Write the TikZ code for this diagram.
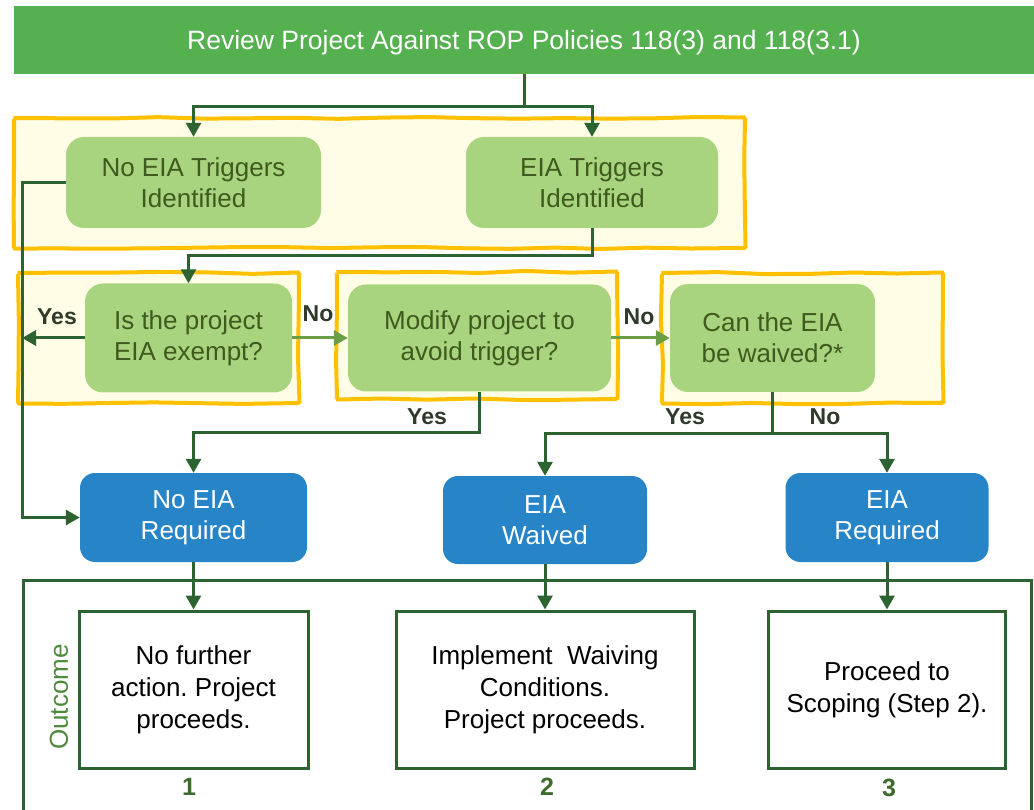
\documentclass[tikz,border=0pt]{standalone}
\usepackage{fontspec}
\setmainfont{Liberation Sans}
\usepackage{tikz}
\usetikzlibrary{arrows.meta}
\usetikzlibrary{decorations.pathmorphing}
\usetikzlibrary{calc,positioning}

\definecolor{topgreen}{HTML}{55B04F}
\definecolor{leafgreen}{HTML}{A9D47F}
\definecolor{leaftext}{HTML}{3E5A1E}
\definecolor{linkgreen}{HTML}{2C6330}
\definecolor{nogreen}{HTML}{6A9F48}
\definecolor{zonefill}{HTML}{FFFDE6}
\definecolor{zoneedge}{HTML}{FFC000}
\definecolor{bluebox}{HTML}{2684C7}
\definecolor{answertext}{HTML}{2F3A2A}
\definecolor{numgreen}{HTML}{3D6B2C}
\definecolor{outcometext}{HTML}{4E8A3C}

\begin{document}
\frenchspacing
\pgfmathsetseed{11}
\begin{tikzpicture}[x=1pt, y=-1pt, >={Triangle[length=14pt,width=15pt]},
    topbar/.style={fill=topgreen, text=white, inner sep=0pt, font=\fontsize{26.5}{31}\selectfont},
    leaf/.style={fill=leafgreen, text=leaftext, rounded corners=18pt, inner sep=0pt, align=center, font=\fontsize{26}{31}\selectfont},
    result/.style={fill=bluebox, text=white, rounded corners=15pt, inner sep=0pt, align=center, font=\fontsize{26}{31}\selectfont},
    action/.style={draw=linkgreen, line width=3pt, fill=white, text=black, inner sep=0pt, align=center, font=\fontsize{26}{32}\selectfont},
    zone/.style={draw=zoneedge, line width=4pt, fill=zonefill, rounded corners=1pt, decorate, decoration={random steps, segment length=45pt, amplitude=1.2pt}},
    link/.style={draw=linkgreen, line width=3pt},
    nolink/.style={draw=nogreen, line width=3pt},
    answer/.style={text=answertext, font=\bfseries\fontsize{23}{27}\selectfont, inner sep=0pt},
    num/.style={text=numgreen, font=\bfseries\fontsize{25}{30}\selectfont, inner sep=0pt}]

    \useasboundingbox (0,0) rectangle (1034,810);

    % zonas amarelas
    \draw[zone] (14,118) rectangle (745,248);
    \draw[zone] (18,273) rectangle (299,403);
    \draw[zone] (337,272) rectangle (617,399);
    \draw[zone] (662,273) rectangle (943,403);

    % barra do topo
    \node[topbar, minimum width=1020, minimum height=68] (review) at (524,40) {};
    \node[topbar, fill=none] (reviewtext) at (524,43) {Review Project Against ROP Policies 118(3) and 118(3.1)};

    % caixas verdes
    \node[leaf, minimum width=255, minimum height=91] (notrig) at (193.5,182.5) {No EIA Triggers\\Identified};
    \node[leaf, minimum width=252, minimum height=91] (trig) at (592,182.5) {EIA Triggers\\Identified};
    \node[leaf, minimum width=207, minimum height=109] (exempt) at (188.5,338) {Is the project\\EIA exempt?};
    \node[leaf, minimum width=263, minimum height=107] (modify) at (479.5,338) {Modify project to\\avoid trigger?};
    \node[leaf, minimum width=205, minimum height=108] (waive) at (772.5,338) {Can the EIA\\be waived?*};

    % caixas azuis
    \node[result, minimum width=227, minimum height=89] (noeia) at (193.5,517.5) {No EIA\\Required};
    \node[result, minimum width=204, minimum height=88] (waived) at (545,520) {EIA\\Waived};
    \node[result, minimum width=203, minimum height=89] (eiareq) at (887,517.5) {EIA\\Required};

    % quadro de resultados
    \draw[link] (23,815) |- (1031,580) -- (1031,815);
    \node[rotate=90, text=outcometext, font=\fontsize{26}{31}\selectfont, inner sep=0pt] (outcome) at (59,697) {Outcome};

    \node[action, minimum width=229, minimum height=157] (act1) at (193.5,689.5) {No further\\action. Project\\proceeds.};
    \node[action, minimum width=298, minimum height=157] (act2) at (545,689.5) {Implement~ Waiving\\Conditions.\\Project proceeds.};
    \node[action, minimum width=237, minimum height=157] (act3) at (887,689.5) {Proceed to\\Scoping (Step 2).};

    \node[num] (n1) at (189,787) {1};
    \node[num] (n2) at (547,787) {2};
    \node[num] (n3) at (889,788) {3};

    % ligacoes
    \draw[link] (review.south) -- (524,107) coordinate (fork1);
    \draw[link,->] (fork1) -| (notrig.north);
    \draw[link,->] (fork1) -| (trig.north);

    \draw[link,->] (notrig.west) -- (22,182.5) |- (noeia.west);
    \draw[link,->] (trig.south) -- (592,256) -| (exempt.north);

    \coordinate (yesend) at (22,338);
    \draw[link,->] (exempt.west) -- (yesend);
    \draw[nolink,->] (exempt.east) -- (modify.west);
    \draw[nolink,->] (modify.east) -- (waive.west);

    \draw[link,->] (modify.south) -- (479.5,432) -| (noeia.north);
    \draw[link] (waive.south) -- (772.5,433) coordinate (fork2);
    \draw[link,->] (fork2) -| (waived.north);
    \draw[link,->] (fork2) -| (eiareq.north);

    \draw[link,->] (noeia.south) -- (act1.north);
    \draw[link,->] (waived.south) -- (act2.north);
    \draw[link,->] (eiareq.south) -- (act3.north);

    % respostas
    \node[answer] (yes1) at (57,317) {Yes};
    \node[answer] (no1) at (318,314) {No};
    \node[answer] (no2) at (639,317) {No};
    \node[answer] (yes2) at (427,417) {Yes};
    \node[answer] (yes3) at (685,417) {Yes};
    \node[answer] (no3) at (825,417) {No};
\end{tikzpicture}
\end{document}
